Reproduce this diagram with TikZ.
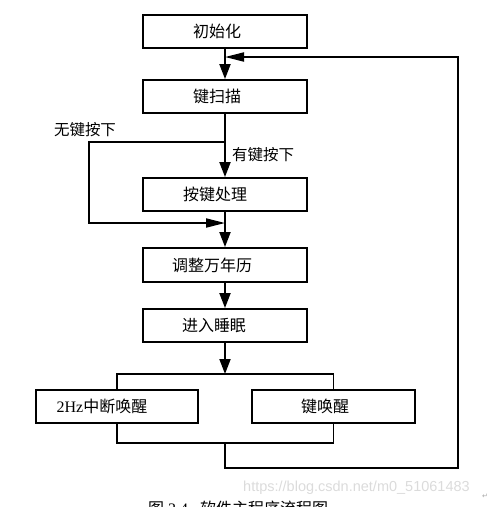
\documentclass[tikz,border=0pt]{standalone}
\usepackage{fontspec}
\setmainfont{Liberation Serif}
\newfontfamily\cjk{Noto Sans CJK SC}
\newfontfamily\wmfont{Liberation Sans}
\newfontfamily\symfont{DejaVu Sans}
\usetikzlibrary{arrows.meta}
\begin{document}
\begin{tikzpicture}[x=1pt,y=-1pt,
  box/.style={draw, line width=1.9pt, minimum height=33pt, inner sep=0pt, font=\fontsize{16}{18}\selectfont\cjk},
  wide/.style={box, minimum width=164pt},
  line/.style={line width=1.9pt},
  arr/.style={line, -{Triangle[length=15pt,width=11pt]}},
  harr/.style={line, -{Triangle[length=19pt,width=9pt]}},
  lbl/.style={font=\fontsize{15.5}{18}\selectfont\cjk, inner sep=0pt}]
\useasboundingbox (0,0) rectangle (499,507);
% boxes
\node[wide] (init) at (225,31.5) {初始化\hspace*{16pt}};
\node[wide] (scan) at (225,96.5) {键扫描\hspace*{16pt}};
\node[wide] (proc) at (225,194.5) {按键处理\hspace*{20pt}};
\node[wide, minimum height=34pt] (cal) at (225,265) {调整万年历\hspace*{26pt}};
\node[wide] (sleep) at (225,325.5) {进入睡眠\hspace*{22pt}};
\node[box, minimum width=162pt] (wake2) at (117,406.5) {{\rmfamily 2Hz}中断唤醒\hspace*{30pt}};
\node[box, minimum width=163pt] (wakek) at (333.5,406.5) {键唤醒\hspace*{17pt}};
% labels
\node[lbl] (no) at (85,130) {无键按下};
\node[lbl, anchor=west] (yes) at (232,155) {有键按下};
% coordinates
\coordinate (j1) at (225,57);
\coordinate (br) at (225,142);
\coordinate (bl1) at (89,142);
\coordinate (bl2) at (89,223);
\coordinate (m1) at (225,223);
\coordinate (t) at (225,374);
\coordinate (b) at (225,443);
\coordinate (r1) at (225,468);
\coordinate (r2) at (458,468);
\coordinate (r3) at (458,57);
% connectors
\draw[arr] (init) -- (scan);
\draw[arr] (scan) -- (proc);
\draw[harr] (br) -- (bl1) -- (bl2) -- (m1);
\draw[arr] (proc) -- (cal);
\draw[arr] (cal) -- (sleep);
\draw[arr] (sleep) -- (t);
\draw[line] (wake2.north) |- (t) -| (wakek.north);
\draw[line] (wake2.south) |- (b) -| (wakek.south);
\draw[harr] (b) -- (r1) -- (r2) -- (r3) -- (j1);
% watermark and caption
\node[anchor=west, text=black!14, font=\wmfont\fontsize{14.5}{16}\selectfont, inner sep=0pt] (wm) at (243,488) {https://blog.csdn.net/m0\_51061483};
\node[text=black!35, font=\symfont\fontsize{7}{8}\selectfont, inner sep=0pt] (ret) at (485,496) {↵};
\begin{scope}
\clip (0,0) rectangle (499,507);
\node[anchor=north west, inner sep=0pt, font=\fontsize{16}{18}\selectfont] (cap) at (148,501) {{\cjk 图}~3.4~~~{\cjk 软件主程序流程图}};
\end{scope}
\end{tikzpicture}
\end{document}
